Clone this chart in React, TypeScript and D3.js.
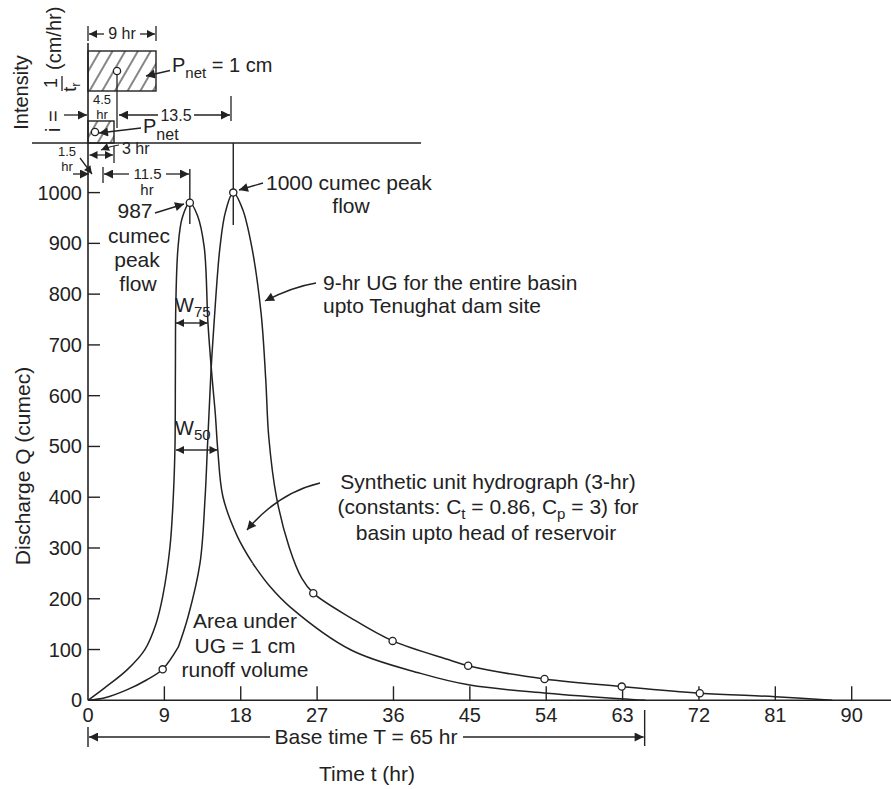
import React from "react";
import * as d3 from "d3";

// ---------- data ----------
const X_TICKS = [0, 9, 18, 27, 36, 45, 54, 63, 72, 81, 90];
const Y_TICKS = [0, 100, 200, 300, 400, 500, 600, 700, 800, 900, 1000];

// 3-hr synthetic unit hydrograph (basin upto head of reservoir)
const synT = [0, 2, 4.6, 6.7, 8, 8.8, 9.66, 10.05, 10.25, 10.3, 10.35, 10.6, 11.1, 12, 12.9, 13.7, 14.14, 14.6, 15.0, 15.3, 15.9, 17.6, 19.4, 21.45, 23.8, 31, 39.2, 45, 54.1, 62.7, 65.7];
const synQ = [0, 25, 60, 100, 150, 204, 302, 400, 500, 650, 780, 890, 950, 980, 955, 892, 742, 640, 565, 492, 401, 323, 270, 224, 184, 99, 53, 30, 14, 3, 0];
const synKinkT = 19.4;

// 9-hr UG for the entire basin upto Tenughat dam site
const ugT = [0, 2, 4.5, 6.9, 8.8, 10.65, 11.8, 13.2, 13.8, 14.06, 14.26, 14.5, 14.85, 15.55, 16.2, 17.12, 18.2, 19.3, 20.4, 20.95, 21.3, 22.2, 23.7, 25.2, 26.55, 31, 35.9, 42.7, 44.8, 53.8, 62.9, 72.1, 81, 87.7];
const ugQ = [0, 5, 20, 40, 61, 105, 165, 270, 400, 493, 565, 650, 742, 892, 962, 1000, 968, 893, 762, 631, 519, 401, 302, 240, 211, 162, 117, 79, 68, 42, 27, 14, 7, 0];
const ugKinkT = 10.65;

const ugMarkT = [8.8, 17.12, 26.55, 35.9, 44.8, 53.8, 62.9, 72.1];
const ugMarkQ = [61, 1000, 211, 117, 68, 42, 27, 14];
const synPeakT = [12];
const synPeakQ = [980];

const BASE_TIME_END = 65.6;

const FONT = "'Liberation Sans', Arial, Helvetica, sans-serif";
const INK = "#222";

export default function App() {
  const W = 891;
  const H = 789;
  const x = d3.scaleLinear().domain([0, 90]).range([88, 851.7]);
  const y = d3.scaleLinear().domain([0, 1000]).range([700.3, 192.6]);

  const line = d3
    .line<[number, number]>()
    .x((d) => x(d[0]))
    .y((d) => y(d[1]))
    .curve(d3.curveCatmullRom.alpha(0.5));

  const split = (T: number[], Q: number[], k: number) => {
    const pts: [number, number][] = T.map((t, i) => [t, Q[i]]);
    return [pts.filter((p) => p[0] <= k), pts.filter((p) => p[0] >= k)];
  };
  const synSegs = split(synT, synQ, synKinkT);
  const ugSegs = split(ugT, ugQ, ugKinkT);

  const x0 = x(0);
  const y0 = y(0);

  const txt = (s: number) => ({ fontFamily: FONT, fontSize: s, fill: INK });

  return (
    <svg
      width={W}
      height={H}
      style={{ position: "absolute", left: 0, top: 0, background: "#fff" }}
    >
      <defs>
        <marker id="ah" viewBox="0 0 10 10" refX="10" refY="5" markerWidth="13" markerHeight="9" markerUnits="userSpaceOnUse" orient="auto-start-reverse">
          <path d="M0,0 L10,5 L0,10 z" fill={INK} />
        </marker>
        <marker id="ahs" viewBox="0 0 10 10" refX="10" refY="5" markerWidth="10" markerHeight="8" markerUnits="userSpaceOnUse" orient="auto-start-reverse">
          <path d="M0,0 L10,5 L0,10 z" fill={INK} />
        </marker>
        <pattern id="hatch" width="11" height="11" patternUnits="userSpaceOnUse" patternTransform="rotate(30)">
          <line x1="2" y1="0" x2="2" y2="11" stroke={INK} strokeWidth={1.1} />
        </pattern>
      </defs>

      {/* ---------- axes ---------- */}
      <line x1={x0} y1={43} x2={x0} y2={y0} stroke={INK} strokeWidth={1.6} />
      <line x1={x0} y1={y0} x2={891} y2={y0} stroke={INK} strokeWidth={1.6} />
      {Y_TICKS.filter((v) => v > 0).map((v) => (
        <line key={"yt" + v} x1={x0} x2={x0 + 12} y1={y(v)} y2={y(v)} stroke={INK} strokeWidth={1.4} />
      ))}
      {Y_TICKS.map((v) => (
        <text key={"yl" + v} x={82} y={y(v) + 7} textAnchor="end" style={txt(20)}>
          {v}
        </text>
      ))}
      {X_TICKS.filter((v) => v > 0).map((v) => (
        <line key={"xt" + v} x1={x(v)} x2={x(v)} y1={y0} y2={y0 - 14} stroke={INK} strokeWidth={1.4} />
      ))}
      {X_TICKS.map((v) => (
        <text key={"xl" + v} x={x(v)} y={722} textAnchor="middle" style={txt(20)}>
          {v}
        </text>
      ))}
      <text x={367} y={781} textAnchor="middle" style={txt(21)}>Time t (hr)</text>
      <text transform="translate(30,466) rotate(-90)" textAnchor="middle" style={txt(21)}>
        Discharge Q (cumec)
      </text>

      {/* base time */}
      <line x1={x0} x2={x0} y1={727} y2={747} stroke={INK} strokeWidth={1.4} />
      <line x1={x(BASE_TIME_END)} x2={x(BASE_TIME_END)} y1={710} y2={746} stroke={INK} strokeWidth={1.4} />
      <line x1={270} y1={737} x2={x0 + 1} y2={737} stroke={INK} strokeWidth={1.4} markerEnd="url(#ah)" />
      <line x1={463} y1={737} x2={x(BASE_TIME_END) - 1} y2={737} stroke={INK} strokeWidth={1.4} markerEnd="url(#ah)" />
      <text x={366} y={744} textAnchor="middle" style={txt(21)}>Base time T = 65 hr</text>

      {/* ---------- curves ---------- */}
      {synSegs.map((s, i) => (
        <path key={"syn" + i} d={line(s) || ""} fill="none" stroke={INK} strokeWidth={1.5} />
      ))}
      {ugSegs.map((s, i) => (
        <path key={"ug" + i} d={line(s) || ""} fill="none" stroke={INK} strokeWidth={1.5} />
      ))}

      {/* peak verticals */}
      <line x1={x(synPeakT[0])} x2={x(synPeakT[0])} y1={169} y2={224} stroke={INK} strokeWidth={1.4} />
      <line x1={x(ugMarkT[1])} x2={x(ugMarkT[1])} y1={143} y2={225} stroke={INK} strokeWidth={1.4} />

      {ugMarkT.map((t, i) => (
        <circle key={"m" + i} cx={x(t)} cy={y(ugMarkQ[i])} r={3.6} fill="#fff" stroke={INK} strokeWidth={1.3} />
      ))}
      {synPeakT.map((t, i) => (
        <circle key={"p" + i} cx={x(t)} cy={y(synPeakQ[i])} r={3.6} fill="#fff" stroke={INK} strokeWidth={1.3} />
      ))}

      {/* ---------- W75 / W50 ---------- */}
      <line x1={191} y1={323} x2={176} y2={323} stroke={INK} strokeWidth={1.4} markerEnd="url(#ahs)" />
      <line x1={191} y1={323} x2={207.5} y2={323} stroke={INK} strokeWidth={1.4} markerEnd="url(#ahs)" />
      <text x={175} y={312} style={txt(20)}>
        W<tspan dy={5} fontSize={15}>75</tspan>
      </text>
      <line x1={196} y1={450} x2={176} y2={450} stroke={INK} strokeWidth={1.4} markerEnd="url(#ahs)" />
      <line x1={196} y1={450} x2={217.5} y2={450} stroke={INK} strokeWidth={1.4} markerEnd="url(#ahs)" />
      <text x={175} y={435} style={txt(20)}>
        W<tspan dy={5} fontSize={15}>50</tspan>
      </text>

      {/* ---------- annotations ---------- */}
      <text x={135} y={218} textAnchor="middle" style={txt(21)}>987</text>
      <text x={139} y={243} textAnchor="middle" style={txt(21)}>cumec</text>
      <text x={137} y={267} textAnchor="middle" style={txt(21)}>peak</text>
      <text x={138} y={291} textAnchor="middle" style={txt(21)}>flow</text>
      <line x1={155} y1={213} x2={184} y2={204} stroke={INK} strokeWidth={1.4} markerEnd="url(#ah)" />

      <text x={266} y={190} style={txt(21)}>1000 cumec peak</text>
      <text x={351} y={213} textAnchor="middle" style={txt(21)}>flow</text>
      <line x1={263} y1={183} x2={239} y2={190} stroke={INK} strokeWidth={1.4} markerEnd="url(#ah)" />

      <text x={323} y={290} style={txt(21)}>9-hr UG for the entire basin</text>
      <text x={323} y={313} style={txt(21)}>upto Tenughat dam site</text>
      <path d="M316,283 Q292,287 265,301" fill="none" stroke={INK} strokeWidth={1.4} markerEnd="url(#ah)" />

      <text x={488} y={489} textAnchor="middle" style={txt(21)}>Synthetic unit hydrograph (3-hr)</text>
      <text x={488} y={514} textAnchor="middle" style={txt(21)}>
        (constants: C<tspan dy={5} fontSize={15}>t</tspan>
        <tspan dy={-5}> = 0.86, C</tspan>
        <tspan dy={5} fontSize={15}>p</tspan>
        <tspan dy={-5}> = 3) for</tspan>
      </text>
      <text x={486} y={540} textAnchor="middle" style={txt(21)}>basin upto head of reservoir</text>
      <path d="M320,483 Q278,493 247,530" fill="none" stroke={INK} strokeWidth={1.4} markerEnd="url(#ah)" />

      <text x={245} y={628} textAnchor="middle" style={txt(21)}>Area under</text>
      <text x={245} y={653} textAnchor="middle" style={txt(21)}>UG = 1 cm</text>
      <text x={245} y={677} textAnchor="middle" style={txt(21)}>runoff volume</text>

      {/* ---------- rainfall (intensity) diagram ---------- */}
      <line x1={32} y1={143} x2={421} y2={143} stroke={INK} strokeWidth={1.6} />
      <rect x={88} y={51} width={68} height={40} fill="url(#hatch)" stroke={INK} strokeWidth={1.4} />
      <rect x={88} y={121} width={26} height={22} fill="url(#hatch)" stroke={INK} strokeWidth={1.4} />
      <line x1={117} y1={71} x2={117} y2={128} stroke={INK} strokeWidth={1.3} />
      <circle cx={117} cy={71} r={3.6} fill="#fff" stroke={INK} strokeWidth={1.3} />
      <circle cx={95} cy={132} r={3.6} fill="#fff" stroke={INK} strokeWidth={1.3} />

      {/* 9 hr */}
      <line x1={88} y1={26} x2={88} y2={41} stroke={INK} strokeWidth={1.3} />
      <line x1={156} y1={26} x2={156} y2={41} stroke={INK} strokeWidth={1.3} />
      <line x1={104} y1={34} x2={89} y2={34} stroke={INK} strokeWidth={1.3} markerEnd="url(#ahs)" />
      <line x1={140} y1={34} x2={155} y2={34} stroke={INK} strokeWidth={1.3} markerEnd="url(#ahs)" />
      <text x={122} y={39} textAnchor="middle" style={txt(16)}>9 hr</text>

      {/* P net = 1 cm */}
      <text x={172} y={72} style={txt(20)}>
        P<tspan dy={6} fontSize={15}>net</tspan>
        <tspan dy={-6}> = 1 cm</tspan>
      </text>
      <line x1={170} y1={70.5} x2={146} y2={76} stroke={INK} strokeWidth={1.3} markerEnd="url(#ah)" />

      {/* 4.5 hr and 13.5 */}
      <text x={102} y={104} textAnchor="middle" style={txt(13)}>4.5</text>
      <text x={102} y={119} textAnchor="middle" style={txt(13)}>hr</text>
      <line x1={158} y1={115} x2={119} y2={115} stroke={INK} strokeWidth={1.3} markerEnd="url(#ah)" />
      <line x1={194} y1={115} x2={230} y2={115} stroke={INK} strokeWidth={1.3} markerEnd="url(#ah)" />
      <text x={176} y={121} textAnchor="middle" style={txt(16)}>13.5</text>
      <line x1={231} y1={96} x2={231} y2={121} stroke={INK} strokeWidth={1.3} />

      {/* i = arrow */}
      <line x1={64} y1={115} x2={87} y2={115} stroke={INK} strokeWidth={1.3} markerEnd="url(#ah)" />

      {/* small P net */}
      <text x={143} y={133} style={txt(20)}>
        P<tspan dy={7} fontSize={16}>net</tspan>
      </text>
      <line x1={141} y1={128} x2={99} y2={133} stroke={INK} strokeWidth={1.3} markerEnd="url(#ah)" />

      {/* 3 hr */}
      <line x1={114} y1={146} x2={114} y2={163} stroke={INK} strokeWidth={1.3} />
      <line x1={101} y1={155} x2={89.5} y2={155} stroke={INK} strokeWidth={1.2} markerEnd="url(#ahs)" />
      <line x1={101} y1={155} x2={113} y2={155} stroke={INK} strokeWidth={1.2} markerEnd="url(#ahs)" />
      <path d="M119,145 Q111,146 101,150" fill="none" stroke={INK} strokeWidth={1.2} markerEnd="url(#ahs)" />
      <text x={122} y={154} style={txt(16)}>3 hr</text>

      {/* 1.5 hr */}
      <text x={67} y={156} textAnchor="middle" style={txt(13)}>1.5</text>
      <text x={67} y={171} textAnchor="middle" style={txt(13)}>hr</text>
      <line x1={73} y1={174} x2={89} y2={174} stroke={INK} strokeWidth={1.3} markerEnd="url(#ah)" />
      <line x1={80} y1={158} x2={92} y2={174} stroke={INK} strokeWidth={1.3} markerEnd="url(#ahs)" />

      {/* 11.5 hr */}
      <line x1={103} y1={167} x2={103} y2={183} stroke={INK} strokeWidth={1.3} />
      <line x1={129} y1={174} x2={104} y2={174} stroke={INK} strokeWidth={1.3} markerEnd="url(#ah)" />
      <line x1={166} y1={174} x2={189} y2={174} stroke={INK} strokeWidth={1.3} markerEnd="url(#ah)" />
      <text x={147.5} y={179} textAnchor="middle" style={txt(15)}>11.5</text>
      <text x={147} y={195} textAnchor="middle" style={txt(15)}>hr</text>

      {/* rotated intensity label */}
      <text transform="translate(28,92.5) rotate(-90)" textAnchor="middle" style={txt(20)}>Intensity</text>
      <g transform="translate(60,132) rotate(-90)">
        <text x={0} y={0} style={txt(20)}>i =</text>
        <text x={49} y={-3} textAnchor="middle" style={txt(18)}>1</text>
        <line x1={41} y1={2} x2={56} y2={2} stroke={INK} strokeWidth={1.3} />
        <text x={45} y={16} textAnchor="middle" style={txt(18)}>
          t<tspan dy={4} fontSize={13}>r</tspan>
        </text>
        <text x={62} y={1} style={txt(20)}>(cm/hr)</text>
      </g>
    </svg>
  );
}
